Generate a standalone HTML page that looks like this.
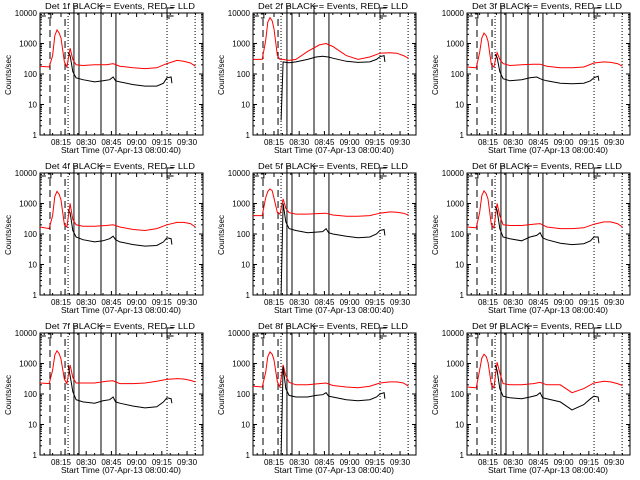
<!DOCTYPE html>
<html><head><meta charset="utf-8">
<style>
html,body{margin:0;padding:0;background:#fff;width:640px;height:480px;overflow:hidden}
svg{display:block}
text{font-family:"Liberation Sans",sans-serif;fill:#000}
</style></head>
<body>
<svg id="chart" width="640" height="480" viewBox="0 0 640 480" xmlns="http://www.w3.org/2000/svg"></svg>
<script>
const detectorNames = ["1f","2f","3f","4f","5f","6f","7f","8f","9f"];
const redTimes = [2.5, 8, 10, 11.3, 12.6, 13.9, 15, 17, 18.5, 20.4, 22, 24, 28, 35, 42, 46, 50, 58, 65, 72, 78, 84, 88, 92, 95];
const blackTimes = [19.2, 20.4, 22, 24, 28, 35, 40, 44, 46, 47.5, 50, 58, 65, 72, 76, 78, 80.5, 81];
const redValues = [
 [180,170,400,1800,2800,2200,1500,250,170,700,300,200,190,200,200,220,180,160,150,160,220,280,260,230,180],
 [300,300,1200,5000,7000,5500,3000,400,300,300,290,280,300,550,900,1000,800,400,300,360,480,500,480,400,330],
 [170,160,500,1500,2200,1800,1200,200,170,500,300,220,190,200,210,210,180,160,160,170,230,250,240,220,180],
 [170,150,400,1700,2500,2000,1300,200,170,1000,300,200,180,180,190,200,170,140,130,150,200,240,240,220,170],
 [400,400,1500,2500,3000,2600,1500,500,450,1400,700,500,450,450,470,480,420,380,380,400,480,530,520,480,420],
 [170,160,500,1800,2600,2100,1400,200,160,1000,400,200,190,190,210,220,170,150,150,160,210,250,250,220,170],
 [230,220,600,1900,2600,2100,1400,300,220,900,350,230,230,230,260,270,220,220,230,260,300,320,310,280,250],
 [180,170,500,1700,2400,2000,1300,250,170,900,400,240,200,200,220,230,190,170,160,180,230,250,250,230,180],
 [170,160,600,1500,2000,1700,1100,200,160,1100,500,220,200,200,220,240,200,200,110,150,230,260,250,220,190]
];
const blackValues = [
 [500,400,120,75,65,55,60,65,80,60,55,45,40,40,50,75,80,50],
 [3,250,240,235,250,300,360,380,370,360,330,260,240,250,300,370,400,250],
 [450,350,120,70,60,65,75,80,70,65,60,50,48,50,60,75,85,60],
 [600,500,130,80,65,55,60,70,85,65,55,45,40,42,55,75,70,45],
 [1,1000,250,150,130,110,115,120,150,110,100,85,75,80,100,130,140,90],
 [800,600,150,80,70,60,80,90,110,75,65,50,45,48,60,80,80,50],
 [900,400,120,65,55,50,60,65,80,55,50,40,35,38,55,75,70,50],
 [1,800,150,90,80,80,90,95,110,85,80,65,60,65,80,100,110,70],
 [900,600,150,85,75,70,80,90,110,75,70,55,30,45,70,85,80,55]
];
const xTickMinutes = [15,30,45,60,75,90];
const xTickLabels = ["08:15","08:30","08:45","09:00","09:15","09:30"];
const yTickValues = [1,10,100,1000,10000];
const yTickLabels = ["1","10","100","1000","10000"];
const dashedLines = [8.45, 17.4];
const dottedLines = [19.2, 78.1, 94.8];
const solidLines = [22.7, 25.7, 38.8, 47.7];

const NS="http://www.w3.org/2000/svg";
const svg=document.getElementById('chart');
const L=40,R=203,T=13,B=135,XMIN=2.5,XMAX=99.5;
function xs(t){return L+(t-XMIN)/(XMAX-XMIN)*(R-L);}
function ys(v){return B-(Math.log10(v))/4*(B-T);}
function mk(tag,attrs,parent){const e=document.createElementNS(NS,tag);for(const k in attrs)e.setAttribute(k,attrs[k]);parent.appendChild(e);return e;}
function line(g,x1,y1,x2,y2,extra){const e=mk('line',Object.assign({x1,y1,x2,y2,stroke:'#000','stroke-width':1},extra||{}),g);return e;}

detectorNames.forEach((name,i)=>{
  const col=i%3,row=Math.floor(i/3);
  const ox=[0,213,427][col],oy=row*160;
  const g=mk('g',{transform:`translate(${ox},${oy})`},svg);
  
  
  const title=mk('text',{x:45,y:9,'font-size':8.5,textLength:150,lengthAdjust:'spacingAndGlyphs'},g);
  title.textContent=`Det ${name} BLACK = Events, RED = LLD`;
  
  
  const yt=mk('text',{x:0,y:0,'font-size':8,'text-anchor':'middle',transform:`translate(11,75) rotate(-90)`},g);
  yt.textContent='Counts/sec';
  
  
  const xt=mk('text',{x:121,y:153,'font-size':8.5,'text-anchor':'middle'},g);
  xt.textContent='Start Time (07-Apr-13 08:00:40)';
  
  
  const fr=mk('rect',{x:L,y:T,width:R-L,height:B-T,fill:'none',stroke:'#000','stroke-width':1},g);
  
  
  yTickValues.forEach((v,k)=>{
    const y=ys(v);
    line(g,L,y,L+4,y);line(g,R-4,y,R,y);
    const tl=mk('text',{x:37,y:y+3,'font-size':8,'text-anchor':'end'},g);
    tl.textContent=yTickLabels[k];
    
    
    if(k<yTickValues.length-1){for(let m=2;m<10;m++){const yy=ys(v*m);line(g,L,yy,L+2,yy);line(g,R-2,yy,R,yy);}}
  });
  xTickMinutes.forEach((t,k)=>{
    const x=xs(t);
    line(g,x,B,x,B-4);line(g,x,T,x,T+4);
    const tl=mk('text',{x:x,y:145,'font-size':8,'text-anchor':'middle'},g);
    tl.textContent=xTickLabels[k];
    
    
  });
  for(let t=5;t<XMAX;t+=5){if(t%15){const x=xs(t);line(g,x,B,x,B-2);line(g,x,T,x,T+2);}}
  dashedLines.forEach(t=>{const e=line(g,xs(t),T+6,xs(t),B,{'stroke-dasharray':'7,4'});});
  dottedLines.forEach(t=>{const e=line(g,xs(t),T,xs(t),B,{'stroke-dasharray':'1,2'});});
  solidLines.forEach(t=>{const e=line(g,xs(t),T,xs(t),B);});
  const bx=[[xs(2.5),xs(6)],[xs(22.7),xs(25.7)],[xs(38.8),xs(41)],[xs(78.1),xs(82)]];
  const bk=mk('path',{fill:'none',stroke:'#000','stroke-width':1,d:
    `M${bx[0][0]} ${T+4}L${bx[0][0]} ${T}M${bx[0][0]+2} ${T+3}L${bx[0][1]} ${T+3}M${bx[0][1]+2} ${T+1}l3 0 0 4 -3 0`+
    `M${bx[1][0]} ${T}L${bx[1][0]} ${T-7}L${bx[1][0]+4} ${T-7}`+
    `M${bx[2][0]} ${T+2}L${bx[2][0]} ${T-7}L${bx[2][0]+4} ${T-7}`+
    `M${bx[3][0]+3} ${T+5}L${bx[3][0]} ${T+5}L${bx[3][0]} ${T-5}L${bx[3][1]} ${T-5}M${bx[3][0]} ${T+3}L${bx[3][1]} ${T+3}`},g);
  
  
  const rp=redTimes.map((t,k)=>xs(t).toFixed(1)+','+ys(redValues[i][k]).toFixed(1)).join(' ');
  const red=mk('polyline',{points:rp,fill:'none',stroke:'#ff0000','stroke-width':1},g);
  
  
  const bp=blackTimes.map((t,k)=>xs(t).toFixed(1)+','+ys(blackValues[i][k]).toFixed(1)).join(' ');
  const blk=mk('polyline',{points:bp,fill:'none',stroke:'#000','stroke-width':1},g);
  
  
});
</script>
</body></html>
